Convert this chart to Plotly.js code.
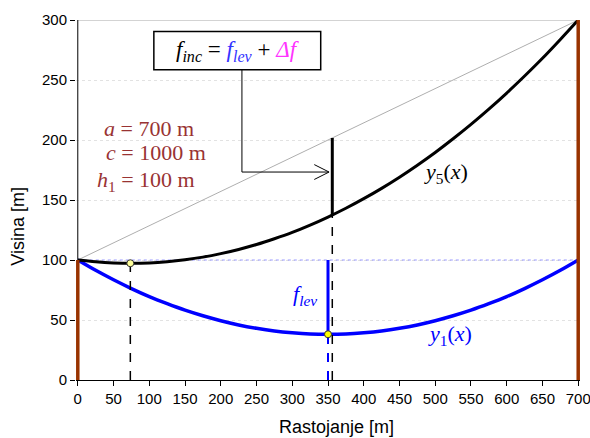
<!DOCTYPE html>
<html>
<head>
<meta charset="utf-8">
<script src="https://cdn.plot.ly/plotly-3.0.1.min.js"></script>
<style>html,body{margin:0;padding:0;background:#fff;}#chart{width:590px;height:438px;}</style>
</head>
<body>
<div id="chart"></div>
<script>
// distance along span [m]
const xs = [0,25,50,75,100,125,150,175,200,225,250,275,300,325,350,375,400,425,450,475,500,525,550,575,600,625,650,675,700];
// level span conductor y1(x)
const y1Vals = [100,91.4,83.5,76.2,69.5,63.6,58.2,53.5,49.4,45.9,43.1,40.9,39.4,38.4,38.1,38.4,39.4,40.9,43.1,45.9,49.4,53.5,58.2,63.6,69.5,76.2,83.5,91.4,100];
// inclined span conductor y5(x)
const y5Vals = [100,98.5,97.6,97.3,97.6,98.6,100.2,102.4,105.3,108.8,112.9,117.7,123.0,129.1,135.8,143.1,151.1,159.7,169.0,179.0,189.6,201.0,213.0,225.7,239.1,253.3,268.1,283.8,300];
// span ends and supports
const spanX = [0,700];
const levelY = [100,100];
const chordY = [100,300];
const leftTowerY = [0,100];
const rightTowerY = [0,300];
const axisY = [0,300];
const topGridY = [300,300];
// characteristic points
const y1LowX = 350, y1LowY = 38.1;
const y5LowX = 73.5, y5LowY = 97.3;
const dfX = 356, dfBottomY = 137.4, dfTopY = 201.7;
const levTopY = 100;
// tick labels
const xTicks = [0,50,100,150,200,250,300,350,400,450,500,550,600,650,700];
const yTicks = [0,50,100,150,200,250,300];
// text labels
const paramLabels = ['<i>a</i> = 700 m', '<i>c</i> = 1000 m', '<i>h</i><sub>1</sub> = 100 m'];
const formulaLabel = '<i>f</i><sub><i>inc</i></sub> = <span style="color:#3333ff"><i>f</i><sub><i>lev</i></sub></span> + <span style="color:#ff33ff"><i>Δf</i></span>';

const serif = 'Liberation Serif, Times New Roman, serif';
const sans = 'Liberation Sans, Arial, sans-serif';

const traces = [
  {x: spanX, y: topGridY, mode:'lines', line:{color:'#a8a8a8', width:1}, hoverinfo:'skip'},
  {x: [spanX[0], spanX[0]], y: axisY, mode:'lines', line:{color:'#000', width:1}, hoverinfo:'skip'},
  {x: spanX, y: levelY, mode:'lines', line:{color:'#8080ff', width:0.8, dash:'dot'}, hoverinfo:'skip'},
  {x: spanX, y: chordY, mode:'lines', line:{color:'#999999', width:0.8}, hoverinfo:'skip'},
  {x: xs, y: y1Vals, mode:'lines', line:{color:'#0000ff', width:3.5, shape:'spline'}, name:'y1'},
  {x: xs, y: y5Vals, mode:'lines', line:{color:'#000000', width:3, shape:'spline'}, name:'y5'},
  {x: [dfX, dfX], y: [dfBottomY, dfTopY], mode:'lines', line:{color:'#000', width:3}},
  {x: [dfX, dfX], y: [0, dfBottomY], mode:'lines', line:{color:'#000', width:1.5, dash:'dash'}},
  {x: [y1LowX, y1LowX], y: [y1LowY, levTopY], mode:'lines', line:{color:'#0000ff', width:3}},
  {x: [y1LowX, y1LowX], y: [0, y1LowY], mode:'lines', line:{color:'#0000ff', width:2, dash:'dash'}},
  {x: [y5LowX, y5LowX], y: [0, y5LowY], mode:'lines', line:{color:'#000', width:1.5, dash:'dash'}},
  {x: [spanX[0], spanX[0]], y: leftTowerY, mode:'lines', line:{color:'#993300', width:3.5}},
  {x: [spanX[1], spanX[1]], y: rightTowerY, mode:'lines', line:{color:'#993300', width:3.5}},
  {x: [y5LowX], y: [y5LowY], mode:'markers', marker:{color:'#ffff99', size:7, line:{color:'#333', width:1}}},
  {x: [y1LowX], y: [y1LowY], mode:'markers', marker:{color:'#ffff00', size:7, line:{color:'#333', width:1}}}
];

const layout = {
  width:590, height:438,
  margin:{l:76.2, r:10.2, t:20, b:58},
  showlegend:false,
  paper_bgcolor:'#fff', plot_bgcolor:'#fff',
  font:{family:sans, size:15, color:'#000'},
  xaxis:{
    range:[-2.5,702.5], tickvals:xTicks, ticks:'outside', ticklen:5, tickcolor:'#000',
    ticklabeloverflow:'allow',
    showline:true, linecolor:'#000', linewidth:1, showgrid:false, zeroline:false,
    tickfont:{family:sans, size:15, color:'#000'}, fixedrange:true
  },
  yaxis:{
    range:[0,300], tickvals:yTicks, ticks:'outside', ticklen:5, tickcolor:'#000',
    ticklabeloverflow:'allow',
    showline:false, showgrid:true, gridcolor:'#e2e2e2', griddash:'dot', gridwidth:1,
    zeroline:false, tickfont:{family:sans, size:15, color:'#000'}, fixedrange:true
  },
  shapes:[
    {type:'rect', xref:'x', yref:'y', x0:106.4, x1:339.8, y0:258.6, y1:290.5, line:{color:'#000', width:1.5}, fillcolor:'#fff'},
    {type:'path', xref:'x', yref:'y', path:'M 229.6 258.6 L 229.6 173.3 L 351 173.3', line:{color:'#000', width:1}},
    {type:'path', xref:'x', yref:'y', path:'M 330.8 179.5 L 351.5 173.3 L 330.8 167.1', line:{color:'#000', width:1}}
  ],
  annotations:[
    {xref:'x', yref:'y', x:224, y:274.5, text:formulaLabel, showarrow:false, font:{family:serif, size:23, color:'#000'}},
    {xref:'x', yref:'y', x:99.4, y:210, text:paramLabels[0], showarrow:false, font:{family:serif, size:22, color:'#993333'}},
    {xref:'x', yref:'y', x:109, y:189.4, text:paramLabels[1], showarrow:false, font:{family:serif, size:22, color:'#993333'}},
    {xref:'x', yref:'y', x:95, y:166, text:paramLabels[2], showarrow:false, font:{family:serif, size:22, color:'#993333'}},
    {xref:'x', yref:'y', x:515, y:172.8, text:'<i>y</i><sub>5</sub>(<i>x</i>)', showarrow:false, font:{family:serif, size:22, color:'#000'}},
    {xref:'x', yref:'y', x:318, y:71, text:'<i>f</i><sub><i>lev</i></sub>', showarrow:false, font:{family:serif, size:22, color:'#0000ff'}},
    {xref:'x', yref:'y', x:521, y:37.8, text:'<i>y</i><sub>1</sub>(<i>x</i>)', showarrow:false, font:{family:serif, size:22, color:'#0000ff'}},
    {xref:'paper', yref:'paper', x:(336-76.2)/503.6, y:(380-427)/360, yanchor:'middle', xanchor:'center', text:'Rastojanje [m]', showarrow:false, font:{family:sans, size:18, color:'#000'}},
    {xref:'paper', yref:'paper', x:(18-76.2)/503.6, y:(380-226)/360, xanchor:'center', yanchor:'middle', textangle:-90, text:'Visina [m]', showarrow:false, font:{family:sans, size:18, color:'#000'}}
  ]
};

Plotly.newPlot('chart', traces, layout, {displayModeBar:false, staticPlot:true});
</script>
</body>
</html>
